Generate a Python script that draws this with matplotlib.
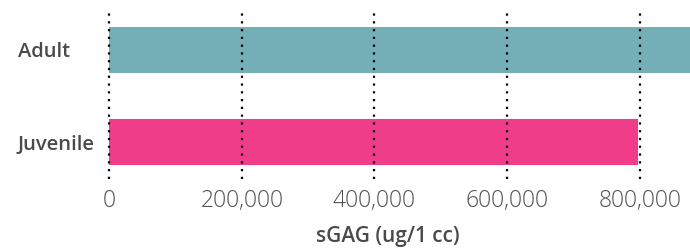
import numpy as np
import matplotlib
matplotlib.use('Agg')
import matplotlib.pyplot as plt

plt.rcParams['font.family'] = ['Open Sans', 'DejaVu Sans']

# data
groups = ['Adult', 'Juvenile']
sgag = [880000, 798000]
colors = ['#74AFB7', '#EF3D8A']
xticks = [0, 200000, 400000, 600000, 800000]

fig = plt.figure(figsize=(6.9, 2.48), dpi=100)
ax = fig.add_axes([0.1584, 0.278, 0.8416, 0.674])

y = np.arange(len(groups))
ax.barh(y, sgag, height=0.5, color=colors, zorder=1)

ax.set_xlim(0, 876000)
ax.set_ylim(1.40, -0.41)
ax.set_xticks(xticks)
ax.set_xticklabels([f'{v:,}' for v in xticks], fontsize=16.5, color='#505050',
                   fontweight='light')
ax.set_yticks(y)
ax.set_yticklabels(groups, fontsize=14.5, color='#4a4a4a', fontweight='semibold',
                   ha='left')
ax.tick_params(length=0)
ax.tick_params(axis='x', pad=7)
ax.tick_params(axis='y', pad=66)

for v in xticks:
    ax.axvline(v, color='black', linestyle=(0, (1, 2.5)), linewidth=1.6,
               zorder=3, clip_on=False)

for s in ax.spines.values():
    s.set_visible(False)

fig.text(388 / 690, 1 - 242 / 248, 'sGAG (ug/1 cc)', fontsize=15,
         fontweight='semibold', color='#4a4a4a', ha='center', va='baseline')

plt.savefig('out.png', dpi=100)
